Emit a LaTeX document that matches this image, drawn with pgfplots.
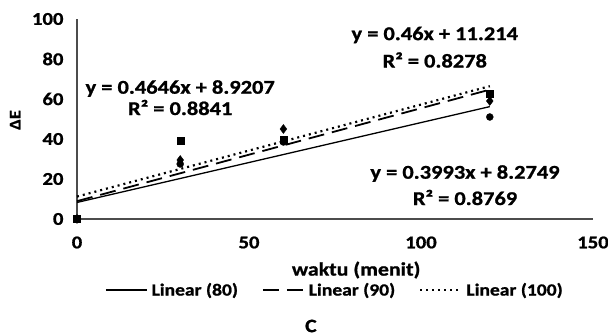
\documentclass[border=0pt]{standalone}
\usepackage{pgfplots}
\pgfplotsset{compat=1.18}
\usepackage{fontspec}
\setmainfont{Carlito}[FakeStretch=1.15, BoldFeatures={FakeStretch=1.15, FakeBold=1}]
\newcommand{\fs}[1]{\fontsize{#1}{#1}\selectfont\bfseries}
\begin{document}
\begin{tikzpicture}[font=\fs{18}]
\path[use as bounding box] (-77pt,-117pt) rectangle (531pt,219pt);
\begin{axis}[
  at={(0,0)}, anchor=south west,
  scale only axis, width=516pt, height=200pt,
  xmin=0, xmax=150, ymin=0, ymax=100,
  xtick={0,50,100,150}, ytick={0,20,40,60,80,100},
  axis lines=left, axis line style={-, line width=1.2pt, black!70},
  major tick length=0pt,
  /pgf/number format/assume math mode=true,
  tick label style={font=\fs{18}},
  xticklabel style={yshift=-14pt},
  yticklabel style={xshift=-10pt},
  xlabel={waktu (menit)}, ylabel={ΔE},
  xlabel style={font=\fs{19}, at={(axis description cs:0.541,-0.255)}, anchor=center},
  ylabel style={font=\fs{16}, at={(axis description cs:-0.12,0.495)}, anchor=center},
  clip=false,
  legend columns=3,
  legend style={draw=none, fill=none, at={(0.5,-0.355)}, anchor=center,
    font=\fs{17}, /tikz/every even column/.append style={column sep=22pt},
    /tikz/every odd column/.append style={column sep=2pt}},
  legend cell align=left,
  legend image code/.code={\draw[#1] (0pt,0pt) -- (41pt,0pt);},
]
% data points
\addplot[only marks, mark=*, mark size=3.5pt, black, forget plot] coordinates {(0,0) (30,27.5) (60,38.5) (120,51)};
\addplot[only marks, mark=diamond*, mark size=4.5pt, black, forget plot] coordinates {(0,0) (30,29.5) (60,45) (120,59)};
\addplot[only marks, mark=square*, mark size=3.5pt, black, forget plot] coordinates {(0,0) (30,39) (60,39.5) (120,62.5)};
% trendlines
\addplot[black, line width=1.3pt, no marks] coordinates {(0,8.2749) (120,56.1909)};
\addlegendentry{Linear (80)}
\addplot[black, line width=1.8pt, no marks, dash pattern=on 16pt off 8pt] coordinates {(0,8.9207) (120,64.6727)};
\addlegendentry{Linear (90)}
\addplot[black, line width=2.2pt, no marks, dash pattern=on 2pt off 4pt] coordinates {(0,11.214) (120,66.414)};
\addlegendentry{Linear (100)}
\node[font=\fs{19.5}] at (axis cs:30,65.25) {y = 0.4646x + 8.9207};
\node[font=\fs{19.5}] at (axis cs:30,55.75) {R² = 0.8841};
\node[font=\fs{19.5}] at (axis cs:104,92) {y = 0.46x + 11.214};
\node[font=\fs{19.5}] at (axis cs:104,79.5) {R² = 0.8278};
\node[font=\fs{19.5}] at (axis cs:112.8,22.75) {y = 0.3993x + 8.2749};
\node[font=\fs{19.5}] at (axis cs:112.8,10.75) {R² = 0.8769};
\node[font=\fs{19}] at (axis cs:68,-53.5) {C};
\end{axis}
\end{tikzpicture}
\end{document}
